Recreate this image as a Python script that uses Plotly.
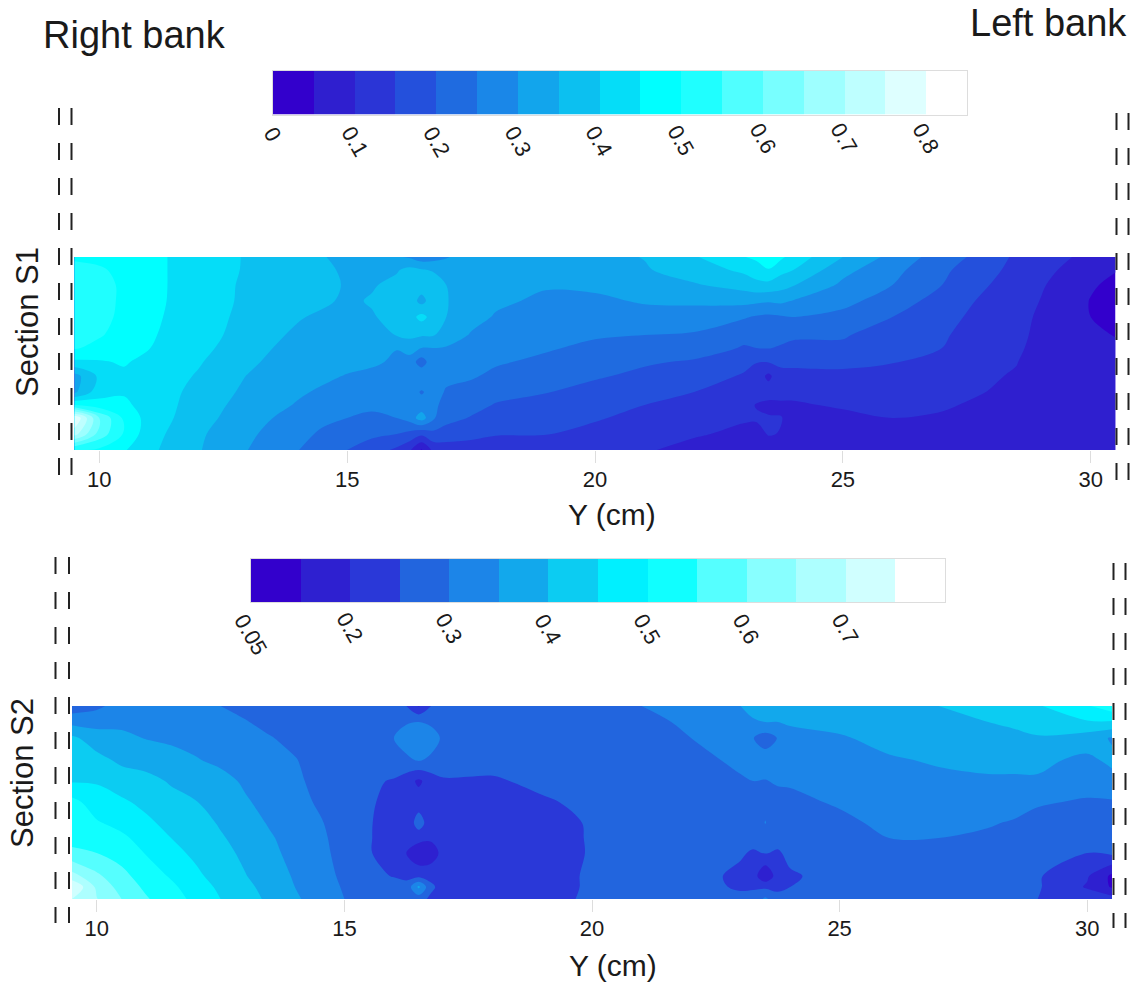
import numpy as np
import plotly.graph_objects as go

W, H = 1130, 982

# ---- data: contour field values ----
x_knots = [9.5, 10, 10.5, 11, 11.5, 12, 12.5, 13, 13.5, 14, 14.5, 15, 15.5, 16, 16.25, 16.5, 16.75, 17, 17.5, 18, 19,
           20, 21, 22, 23, 23.25, 23.5, 23.75, 24, 25, 26, 27, 28, 28.5, 29, 30, 30.5]
s1_rows = [0, 13, 28, 44, 60, 78, 91, 105, 119, 135, 148, 161, 177, 193]
s2_rows = [0, 16, 32, 54, 75, 96, 117, 132, 147, 170, 181, 193]

# one list per x knot, top row first
s1_columns = [
    [.49, .52, .53, .53, .53, .52, .505, .44, .33, .34, .50, .80, .72, .50],
    [.49, .505, .52, .52, .52, .505, .485, .445, .41, .43, .47, .60, .58, .49],
    [.485, .49, .49, .49, .485, .48, .47, .455, .44, .445, .46, .49, .495, .455],
    [.48, .48, .48, .475, .47, .46, .452, .435, .43, .43, .43, .43, .42, .41],
    [.44, .44, .44, .44, .435, .43, .425, .42, .415, .41, .405, .40, .39, .385],
    [.44, .44, .44, .44, .435, .43, .42, .405, .395, .38, .375, .37, .36, .355],
    [.412, .41, .41, .408, .405, .40, .39, .38, .37, .36, .353, .345, .33, .32],
    [.395, .395, .39, .39, .385, .38, .37, .36, .348, .34, .33, .32, .31, .30],
    [.38, .38, .38, .38, .37, .36, .35, .34, .33, .32, .31, .30, .285, .27],
    [.365, .365, .365, .36, .355, .34, .33, .32, .31, .305, .297, .285, .27, .252],
    [.352, .36, .365, .36, .34, .33, .325, .315, .307, .295, .28, .265, .24, .22],
    [.34, .342, .345, .34, .335, .33, .32, .31, .298, .28, .26, .25, .225, .20],
    [.325, .335, .345, .355, .345, .335, .325, .31, .285, .27, .255, .245, .21, .175],
    [.305, .345, .365, .375, .37, .352, .302, .29, .28, .27, .26, .25, .20, .14],
    [.295, .365, .375, .38, .38, .362, .32, .28, .28, .275, .265, .27, .185, .11],
    [.27, .355, .375, .333, .415, .355, .30, .225, .29, .245, .27, .325, .16, .045],
    [.28, .345, .375, .38, .38, .352, .30, .285, .28, .27, .262, .255, .185, .115],
    [.295, .34, .35, .352, .35, .335, .295, .28, .262, .245, .23, .215, .18, .12],
    [.33, .335, .335, .33, .32, .295, .275, .265, .255, .235, .215, .197, .165, .125],
    [.335, .33, .32, .31, .295, .27, .26, .255, .24, .215, .197, .18, .153, .125],
    [.335, .325, .305, .29, .275, .26, .255, .24, .225, .202, .185, .17, .152, .12],
    [.335, .325, .31, .29, .275, .255, .24, .22, .205, .185, .17, .155, .135, .12],
    [.352, .345, .33, .305, .28, .25, .23, .205, .19, .17, .15, .135, .12, .105],
    [.395, .375, .345, .31, .275, .245, .22, .195, .175, .15, .135, .12, .105, .085],
    [.448, .41, .37, .315, .255, .21, .197, .165, .145, .125, .115, .105, .09, .075],
    [.46, .425, .385, .31, .245, .215, .2, .152, .13, .115, .098, .105, .085, .07],
    [.495, .445, .385, .305, .24, .22, .202, .152, .088, .125, .085, .105, .103, .075],
    [.46, .415, .37, .31, .245, .215, .195, .16, .135, .12, .09, .102, .098, .07],
    [.43, .40, .353, .297, .25, .21, .185, .165, .13, .11, .095, .085, .07, .06],
    [.35, .315, .29, .265, .235, .205, .19, .16, .14, .12, .105, .09, .07, .06],
    [.285, .265, .25, .225, .20, .175, .16, .152, .135, .12, .11, .10, .08, .06],
    [.225, .21, .20, .18, .165, .155, .15, .135, .125, .115, .105, .095, .08, .06],
    [.175, .16, .148, .135, .13, .125, .12, .115, .105, .098, .09, .08, .07, .06],
    [.14, .135, .13, .125, .12, .115, .11, .102, .095, .088, .08, .075, .07, .06],
    [.125, .115, .105, .098, .09, .085, .08, .075, .07, .07, .065, .065, .06, .06],
    [.085, .07, .055, .048, .05, .06, .065, .065, .065, .065, .065, .065, .06, .06],
    [.07, .052, .04, .035, .035, .048, .06, .065, .065, .065, .065, .06, .05, .06],
]

s2_columns = [
    [.27, .335, .41, .435, .445, .515, .51, .535, .56, .67, .75, .70],
    [.29, .33, .375, .415, .445, .475, .505, .53, .55, .61, .64, .652],
    [.32, .34, .36, .39, .425, .458, .485, .51, .53, .565, .58, .60],
    [.32, .335, .348, .38, .415, .437, .46, .48, .497, .525, .54, .555],
    [.31, .325, .34, .37, .395, .415, .435, .45, .465, .495, .51, .52],
    [.31, .32, .335, .353, .375, .402, .42, .43, .44, .46, .475, .488],
    [.30, .31, .32, .34, .365, .38, .395, .405, .415, .43, .44, .45],
    [.285, .303, .32, .333, .343, .355, .372, .382, .39, .402, .41, .42],
    [.275, .285, .303, .317, .325, .335, .345, .355, .362, .375, .385, .39],
    [.27, .275, .285, .303, .31, .318, .325, .33, .335, .345, .35, .357],
    [.265, .265, .27, .278, .285, .293, .305, .31, .312, .32, .325, .33],
    [.26, .26, .26, .26, .265, .27, .275, .28, .285, .29, .295, .30],
    [.262, .262, .262, .262, .26, .26, .255, .255, .255, .26, .265, .27],
    [.27, .285, .30, .285, .245, .225, .22, .215, .215, .248, .265, .28],
    [.25, .295, .325, .29, .225, .21, .21, .205, .20, .24, .265, .27],
    [.195, .30, .345, .305, .19, .225, .275, .22, .16, .235, .36, .27],
    [.25, .29, .325, .29, .225, .215, .22, .21, .17, .235, .26, .24],
    [.27, .275, .29, .275, .245, .225, .225, .22, .22, .225, .23, .23],
    [.275, .275, .28, .27, .245, .225, .22, .215, .215, .22, .225, .225],
    [.275, .275, .27, .265, .245, .225, .22, .215, .215, .215, .22, .22],
    [.275, .275, .27, .265, .26, .245, .23, .225, .22, .22, .22, .23],
    [.28, .28, .275, .27, .265, .26, .255, .255, .255, .26, .26, .26],
    [.30, .285, .275, .27, .265, .26, .255, .255, .255, .255, .255, .255],
    [.325, .31, .30, .285, .27, .265, .26, .26, .26, .268, .265, .26],
    [.35, .335, .32, .31, .295, .28, .27, .265, .255, .24, .245, .26],
    [.365, .345, .302, .32, .30, .285, .27, .265, .245, .225, .245, .265],
    [.37, .35, .275, .325, .298, .285, .302, .265, .252, .155, .24, .31],
    [.37, .35, .302, .325, .305, .285, .27, .265, .245, .225, .24, .265],
    [.37, .355, .335, .32, .305, .29, .27, .265, .26, .245, .25, .26],
    [.39, .365, .345, .335, .315, .305, .29, .28, .27, .265, .265, .265],
    [.395, .38, .365, .345, .33, .32, .31, .30, .29, .275, .27, .265],
    [.40, .385, .37, .355, .34, .33, .315, .30, .29, .28, .27, .265],
    [.44, .40, .38, .36, .345, .325, .305, .29, .28, .27, .265, .26],
    [.43, .41, .385, .36, .345, .325, .295, .28, .27, .26, .26, .255],
    [.445, .425, .395, .36, .345, .305, .285, .27, .26, .255, .255, .25],
    [.495, .445, .375, .34, .32, .295, .28, .265, .25, .205, .195, .23],
    [.53, .445, .345, .36, .335, .295, .28, .27, .26, .14, .145, .22],
]

s1_colors = ["#3300CC", "#2F1FCF", "#2B35D6", "#2450DC", "#1F6BE0", "#1A87E8", "#12A5EC", "#0CC0F0",
             "#05DDF8", "#00FFFF", "#1FFFFF", "#50FFFF", "#78FFFF", "#9EFFFF", "#BEFFFF", "#DEFFFF", "#FFFFFF"]
s2_colors = ["#3300CC", "#2E20D0", "#2A38D8", "#2265DE", "#1C85E8", "#12A8EC", "#0CCCF2", "#00F0FF",
             "#10FFFF", "#55FFFF", "#88FFFF", "#ADFFFF", "#D0FFFF", "#FFFFFF"]

s1_bar_ticks = ["0", "0.1", "0.2", "0.3", "0.4", "0.5", "0.6", "0.7", "0.8"]
s2_bar_ticks = ["0.05", "0.2", "0.3", "0.4", "0.5", "0.6", "0.7"]
panel_ticks = [10, 15, 20, 25, 30]


def stepped(colors):
    n = len(colors)
    scale = []
    for i, c in enumerate(colors):
        scale += [[i / n, c], [(i + 1) / n, c]]
    return scale


def px_x(a, b):
    return [a / W, b / W]


def px_y(top, bottom):
    return [1 - bottom / H, 1 - top / H]


fig = go.Figure()

fig.add_trace(go.Contour(
    x=x_knots, y=s1_rows, z=np.array(s1_columns).T.tolist(),
    zmin=0, zmax=0.85, colorscale=stepped(s1_colors), showscale=False,
    contours=dict(coloring="fill", start=0.05, end=0.80, size=0.05, showlines=False),
    line=dict(width=0, smoothing=1.0), xaxis="x", yaxis="y"))
fig.add_trace(go.Contour(
    x=x_knots, y=s2_rows, z=np.array(s2_columns).T.tolist(),
    zmin=0.1, zmax=0.8, colorscale=stepped(s2_colors), showscale=False,
    contours=dict(coloring="fill", start=0.15, end=0.75, size=0.05, showlines=False),
    line=dict(width=0, smoothing=1.0), xaxis="x2", yaxis="y2"))


def add_bar(colors, xa, ya):
    n = len(colors)
    fig.add_trace(go.Heatmap(
        x=list(range(n + 1)), y=[0, 1], z=[[i + 0.5 for i in range(n)]],
        zmin=0, zmax=n, colorscale=stepped(colors), showscale=False, xaxis=xa, yaxis=ya))


add_bar(s1_colors, "x3", "y3")
add_bar(s2_colors, "x4", "y4")

panel_axis = dict(range=[9.5, 30.5], tickvals=panel_ticks, ticks="outside", ticklen=12, tickcolor="#dddddd",
                  tickwidth=1, showgrid=False, zeroline=False, showline=False, automargin=False,
                  ticklabelstandoff=-2, tickfont=dict(family="Liberation Sans", size=22, color="#1a1a1a"))
hidden_y = dict(showticklabels=False, ticks="", showgrid=False, zeroline=False, showline=False, automargin=False)
bar_frame = dict(showline=True, mirror=True, linecolor="#dddddd", linewidth=1, showgrid=False, zeroline=False,
                 ticks="", showticklabels=False, automargin=False)

fig.update_layout(
    template="none",
    width=W, height=H, autosize=False, margin=dict(l=0, r=0, t=0, b=0, autoexpand=False),
    paper_bgcolor="#ffffff", plot_bgcolor="#ffffff", showlegend=False,
    xaxis=dict(panel_axis, domain=px_x(74.5, 1115.5), anchor="y"),
    yaxis=dict(hidden_y, domain=px_y(257, 450), range=[193, 0], anchor="x"),
    xaxis2=dict(panel_axis, domain=px_x(72, 1112), anchor="y2"),
    yaxis2=dict(hidden_y, domain=px_y(706, 899), range=[193, 0], anchor="x2"),
    xaxis3=dict(bar_frame, range=[0, len(s1_colors)], domain=px_x(273, 967), anchor="y3"),
    yaxis3=dict(bar_frame, domain=px_y(70.5, 114.5), range=[0, 1], anchor="x3"),
    xaxis4=dict(bar_frame, range=[0, len(s2_colors)], domain=px_x(251, 945), anchor="y4"),
    yaxis4=dict(bar_frame, domain=px_y(559, 602), range=[0, 1], anchor="x4"),
)


def label(text, x, y, size, angle=0):
    fig.add_annotation(text=text, x=x / W, y=1 - y / H, xref="paper", yref="paper", showarrow=False,
                       xanchor="center", yanchor="middle", textangle=angle,
                       font=dict(family="Liberation Sans", size=size, color="#1a1a1a"))


def bar_labels(ticks, axis, centres_y):
    for i, (text, y) in enumerate(zip(ticks, centres_y)):
        fig.add_annotation(text=text, x=2 * i, xref=axis, y=1 - y / H, yref="paper", showarrow=False,
                           xanchor="center", yanchor="middle", textangle=60,
                           font=dict(family="Liberation Sans", size=22, color="#1a1a1a"))


bar_labels(s1_bar_ticks, "x3", [134, 142, 142, 142, 141, 140, 139, 138, 138])
bar_labels(s2_bar_ticks, "x4", [634, 627, 628, 629, 629, 629, 629])

label("Right bank", 134, 35, 38)
label("Left bank", 1048, 23, 38)
label("Section S1", 27, 322, 31, -90)
label("Section S2", 22, 773, 31, -90)
label("Y (cm)", 612, 514, 30)
label("Y (cm)", 613, 965, 30)


def bank_line(x, top, bottom):
    fig.add_shape(type="line", xref="paper", yref="paper", x0=x / W, x1=x / W, y0=1 - top / H, y1=1 - bottom / H,
                  line=dict(color="#222222", width=2, dash="17px,18px"), layer="above")


for x, top, bottom in [(59, 108, 475), (71.5, 108, 475), (1116.5, 113, 480), (1128.5, 113, 480),
                       (55.5, 557, 923), (69, 557, 923), (1113.5, 563, 928), (1125.5, 563, 928)]:
    bank_line(x, top, bottom)

fig.write_html("out.html", config={"displayModeBar": False},
               post_script="document.body.style.margin='0';document.body.style.overflow='hidden';")
